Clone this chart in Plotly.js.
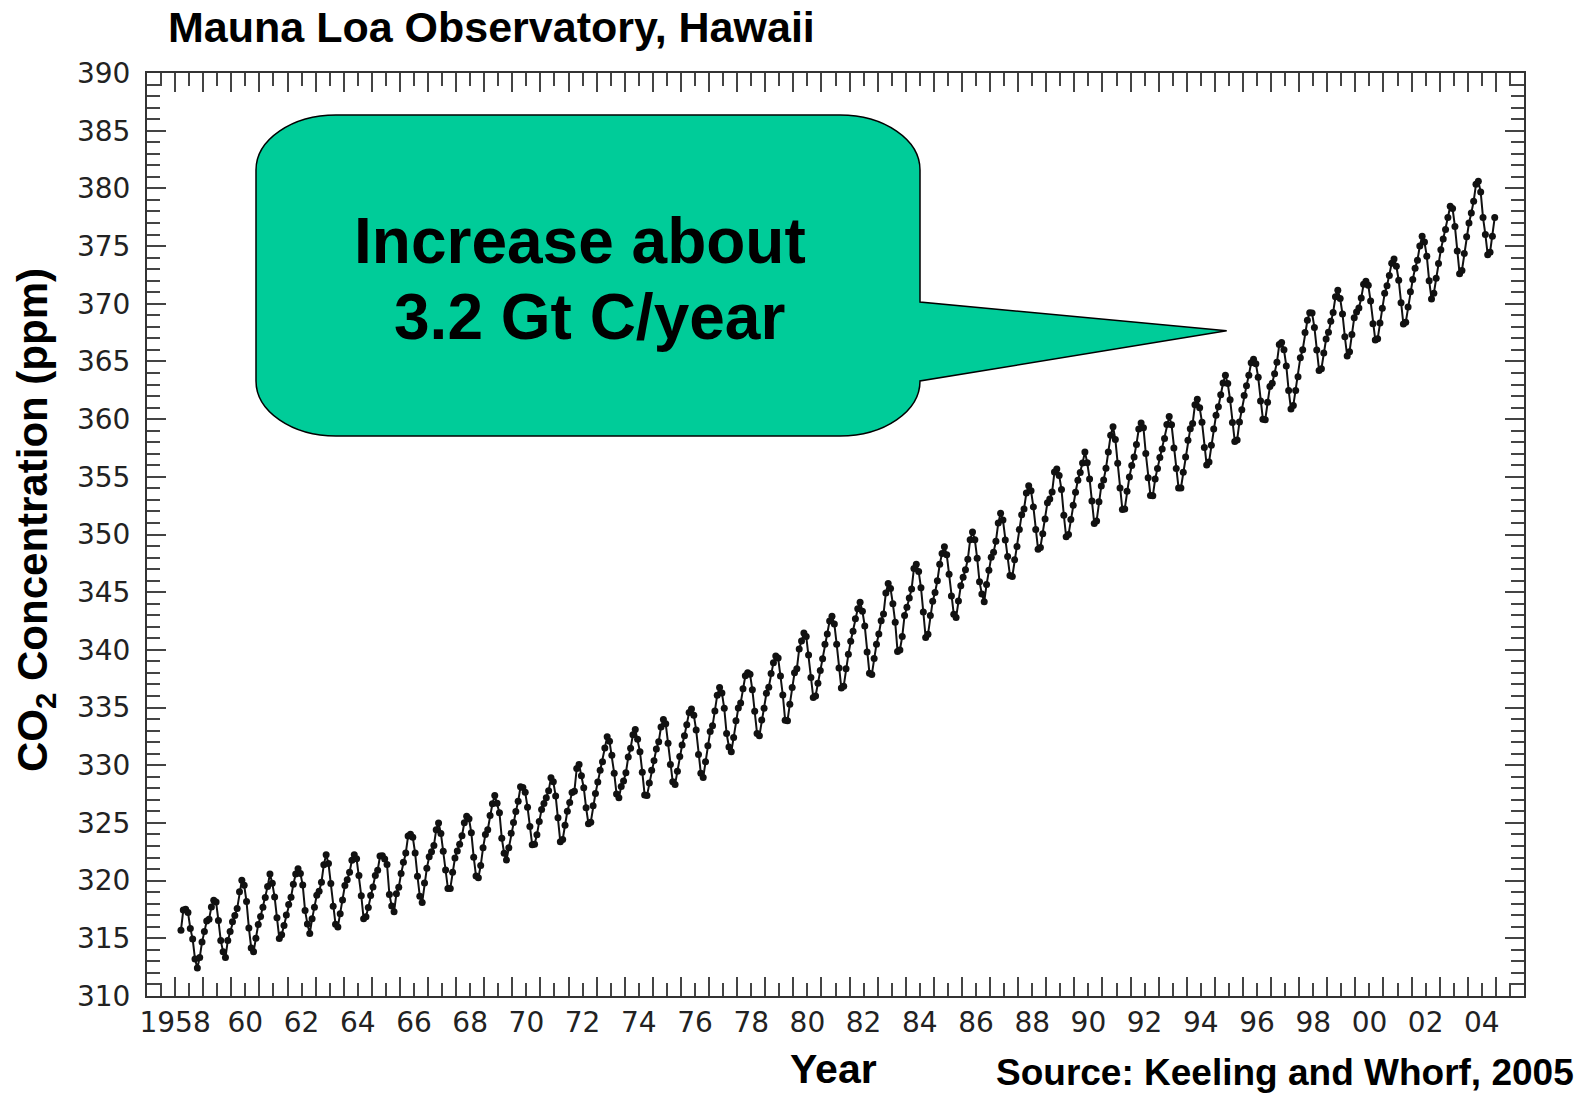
<!DOCTYPE html>
<html><head><meta charset="utf-8">
<script src="https://cdn.plot.ly/plotly-3.0.1.min.js"></script>
<style>html,body{margin:0;padding:0;background:#fff;} #chart{width:1589px;height:1097px;}</style>
</head><body><div id="chart"></div>
<script>
// Monthly CO2 (ppm), Mauna Loa, starting March 1958
const startYear = 1958, startMonth = 3;
const co2_1958_1959 = [
  315.70, 317.45, 317.51, 317.24, 315.86, 314.93, 313.20, 312.43, 313.33, 314.67,
  315.58, 316.49, 316.65, 317.72, 318.29, 318.15, 316.54, 314.80, 313.84, 313.33, 314.81, 315.58
];
const co2_1960s = [
  316.43, 316.98, 317.58, 319.03, 320.04, 319.59, 318.18, 315.90, 314.17, 313.83, 315.00, 316.19,
  316.89, 317.70, 318.54, 319.48, 320.58, 319.77, 318.57, 316.79, 314.99, 315.31, 316.10, 317.01,
  317.94, 318.55, 319.68, 320.57, 321.02, 320.62, 319.61, 317.40, 316.25, 315.42, 316.69, 317.70,
  318.74, 319.07, 319.86, 321.38, 322.25, 321.48, 319.74, 317.77, 316.21, 315.99, 317.12, 318.31,
  319.57, 320.07, 320.73, 321.77, 322.25, 321.89, 320.44, 318.69, 316.70, 316.87, 317.68, 318.71,
  319.44, 320.44, 320.89, 322.13, 322.16, 321.87, 321.39, 318.80, 317.81, 317.30, 318.87, 319.42,
  320.62, 321.59, 322.39, 323.87, 324.01, 323.75, 322.39, 320.37, 318.64, 318.10, 319.79, 321.08,
  322.07, 322.50, 323.04, 324.42, 325.00, 324.09, 322.55, 320.92, 319.31, 319.31, 320.72, 321.96,
  322.57, 323.15, 323.89, 325.02, 325.57, 325.36, 324.14, 322.03, 320.41, 320.25, 321.31, 322.84,
  324.00, 324.42, 325.64, 326.66, 327.38, 326.70, 325.89, 323.67, 322.38, 321.78, 322.85, 324.11
];
const co2_1970s = [
  325.03, 325.99, 326.87, 328.13, 328.07, 327.66, 326.35, 324.69, 323.10, 323.16, 323.98, 325.13,
  326.17, 326.68, 327.18, 327.78, 328.92, 328.57, 327.34, 325.46, 323.36, 323.57, 324.80, 326.01,
  326.77, 327.63, 327.75, 329.72, 330.07, 329.09, 328.05, 326.32, 324.93, 325.06, 326.50, 327.55,
  328.54, 329.56, 330.30, 331.50, 332.48, 332.07, 330.87, 329.31, 327.51, 327.18, 328.16, 328.64,
  329.35, 330.71, 331.48, 332.65, 333.09, 332.25, 331.18, 329.40, 327.43, 327.37, 328.46, 329.57,
  330.40, 331.40, 332.04, 333.31, 333.96, 333.59, 331.91, 330.06, 328.56, 328.34, 329.49, 330.76,
  331.75, 332.56, 333.50, 334.58, 334.87, 334.34, 333.05, 330.94, 329.30, 328.94, 330.31, 331.68,
  332.93, 333.42, 334.70, 336.07, 336.74, 336.27, 334.93, 332.75, 331.58, 331.16, 332.40, 333.85,
  334.97, 335.39, 336.64, 337.76, 338.01, 337.89, 336.54, 334.68, 332.76, 332.55, 333.92, 334.95,
  336.23, 336.76, 337.96, 338.89, 339.47, 339.29, 337.73, 336.09, 333.91, 333.86, 335.29, 336.73
];
const co2_1980s = [
  338.01, 338.36, 340.08, 340.77, 341.46, 341.17, 339.56, 337.60, 335.88, 336.01, 337.10, 338.21,
  339.24, 340.48, 341.38, 342.51, 342.91, 342.25, 340.49, 338.43, 336.69, 336.85, 338.36, 339.61,
  340.75, 341.61, 342.70, 343.56, 344.13, 343.35, 342.06, 339.82, 337.97, 337.86, 339.26, 340.49,
  341.38, 342.52, 343.10, 344.94, 345.75, 345.32, 343.99, 342.39, 339.86, 339.99, 341.16, 342.99,
  343.70, 344.50, 345.28, 347.06, 347.43, 346.80, 345.39, 343.28, 341.07, 341.35, 342.98, 344.22,
  344.97, 345.99, 347.42, 348.35, 348.93, 348.25, 346.56, 344.67, 343.09, 342.80, 344.24, 345.56,
  346.30, 346.95, 347.85, 349.55, 350.21, 349.55, 347.94, 345.90, 344.85, 344.17, 345.66, 346.90,
  348.02, 348.47, 349.42, 350.99, 351.84, 351.25, 349.52, 348.10, 346.44, 346.36, 347.81, 348.96,
  350.43, 351.72, 352.22, 353.59, 354.22, 353.79, 352.39, 350.44, 348.72, 348.88, 350.07, 351.34,
  352.76, 353.07, 353.68, 355.42, 355.67, 355.12, 353.90, 351.67, 349.80, 349.99, 351.30, 352.53
];
const co2_1990s = [
  353.66, 354.70, 355.38, 356.20, 357.16, 356.22, 354.82, 352.91, 350.96, 351.18, 352.83, 354.21,
  354.72, 355.75, 357.16, 358.60, 359.34, 358.24, 356.17, 354.03, 352.16, 352.21, 353.75, 354.99,
  355.98, 356.72, 357.81, 359.15, 359.66, 359.25, 357.02, 354.91, 353.38, 353.35, 354.81, 355.73,
  356.67, 357.41, 358.31, 359.53, 360.23, 359.51, 357.50, 355.71, 354.02, 354.03, 355.39, 356.71,
  358.16, 359.16, 359.61, 361.25, 361.72, 360.99, 359.73, 357.55, 356.02, 356.28, 357.73, 359.15,
  360.34, 361.07, 362.12, 363.13, 363.81, 363.08, 361.69, 359.71, 358.06, 358.20, 359.76, 360.81,
  362.04, 362.90, 363.81, 364.89, 365.19, 364.81, 363.62, 361.58, 360.00, 359.95, 361.47, 362.82,
  363.11, 363.94, 364.92, 366.47, 366.65, 366.01, 364.61, 362.48, 360.87, 361.18, 362.49, 363.67,
  365.33, 366.02, 367.50, 368.57, 369.23, 369.19, 367.95, 366.00, 364.22, 364.37, 365.73, 366.94,
  367.52, 368.49, 369.25, 370.60, 371.17, 370.45, 369.11, 367.14, 365.47, 365.85, 367.33, 368.78
];
const co2_2000s = [
  369.28, 369.63, 370.49, 371.68, 371.95, 371.61, 370.23, 368.26, 366.86, 366.96, 368.33, 369.62,
  370.90, 371.57, 372.45, 373.51, 373.88, 373.25, 372.04, 370.09, 368.24, 368.39, 369.71, 371.04,
  372.11, 373.07, 373.77, 375.00, 375.84, 375.35, 374.11, 372.00, 370.42, 370.91, 372.22, 373.48,
  374.68, 375.62, 376.44, 377.48, 378.45, 378.25, 376.70, 374.57, 372.60, 372.88, 374.36, 375.80,
  377.00, 377.87, 378.88, 380.35, 380.62, 379.69, 377.47, 376.01, 374.25, 374.46, 375.86, 377.48
];
const xTickVals = [1958, 1960.5, 1962.5, 1964.5, 1966.5, 1968.5, 1970.5, 1972.5, 1974.5, 1976.5,
  1978.5, 1980.5, 1982.5, 1984.5, 1986.5, 1988.5, 1990.5, 1992.5, 1994.5, 1996.5, 1998.5,
  2000.5, 2002.5, 2004.5];
const xTickText = ['1958','60','62','64','66','68','70','72','74','76','78','80','82','84','86',
  '88','90','92','94','96','98','00','02','04'];

const co2 = [].concat(co2_1958_1959, co2_1960s, co2_1970s, co2_1980s, co2_1990s, co2_2000s);
const xs = co2.map((v, i) => startYear + (startMonth - 1 + i + 0.5) / 12);

const W = 1589, H = 1097, L = 147, R = 65, T = 73, B = 101;
const pw = W - L - R, ph = H - T - B;
const px = v => (v - L) / pw;
const py = v => (H - B - v) / ph;

// callout bubble outline (pixel geometry -> paper coords)
const bx0 = 256, bx1 = 920, by0 = 115, by1 = 436, rx = 80, ry = 55, k = 0.552;
const pt = (a, b) => px(a).toFixed(5) + ',' + py(b).toFixed(5);
const bubble = 'M' + pt(bx0 + rx, by0) + ' L' + pt(bx1 - rx, by0) +
  ' C' + pt(bx1 - rx + k * rx, by0) + ' ' + pt(bx1, by0 + ry - k * ry) + ' ' + pt(bx1, by0 + ry) +
  ' L' + pt(bx1, 302) + ' L' + pt(1226.7, 330.7) + ' L' + pt(bx1, 381) +
  ' C' + pt(bx1, by1 - ry + k * ry) + ' ' + pt(bx1 - rx + k * rx, by1) + ' ' + pt(bx1 - rx, by1) +
  ' L' + pt(bx0 + rx, by1) +
  ' C' + pt(bx0 + rx - k * rx, by1) + ' ' + pt(bx0, by1 - ry + k * ry) + ' ' + pt(bx0, by1 - ry) +
  ' L' + pt(bx0, by0 + ry) +
  ' C' + pt(bx0, by0 + ry - k * ry) + ' ' + pt(bx0 + rx - k * rx, by0) + ' ' + pt(bx0 + rx, by0) + ' Z';

const tickFont = {family: 'DejaVu Sans', size: 28, color: '#222'};
const boldFont = (s) => ({family: 'Liberation Sans, Arial, sans-serif', size: s, color: '#000'});

const traces = [
  {x: xs, y: co2, type: 'scatter', mode: 'lines+markers', xaxis: 'x', yaxis: 'y',
   line: {color: '#111', width: 2}, marker: {color: '#111', size: 7}, hoverinfo: 'skip', showlegend: false},
  {x: [], y: [], type: 'scatter', mode: 'markers', xaxis: 'x2', yaxis: 'y', showlegend: false, hoverinfo: 'skip'}
];

const layout = {
  width: W, height: H,
  margin: {l: L, r: R, t: T, b: B, pad: 0},
  paper_bgcolor: '#fff', plot_bgcolor: '#fff',
  showlegend: false, hovermode: false,
  title: {text: '<b>Mauna Loa Observatory, Hawaii</b>', font: boldFont(43),
          x: 168 / W, xanchor: 'left', xref: 'container', y: 1 - 27 / H, yanchor: 'middle', yref: 'container'},
  xaxis: {range: [1957, 2006], tickmode: 'array', tickvals: xTickVals, ticktext: xTickText,
          ticks: '', showline: true, mirror: true, linecolor: '#333', linewidth: 2,
          showgrid: false, zeroline: false, tickfont: tickFont, automargin: false, fixedrange: true},
  xaxis2: {overlaying: 'x', anchor: 'y', side: 'bottom', range: [1957, 2006], tickmode: 'linear', tick0: 1957, dtick: 1,
           ticks: 'inside', ticklen: 19, tickwidth: 2, tickcolor: '#444', mirror: 'ticks',
           showline: true, linecolor: '#333', linewidth: 2, showticklabels: false,
           showgrid: false, zeroline: false, automargin: false,
           minor: {dtick: 0.5, ticks: 'inside', ticklen: 13, tickwidth: 2, tickcolor: '#444', showgrid: false}},
  yaxis: {range: [310, 390], tickmode: 'linear', tick0: 310, dtick: 5,
          ticks: 'inside', ticklen: 19, tickwidth: 2, tickcolor: '#444', mirror: 'ticks',
          showline: true, linecolor: '#333', linewidth: 2, showgrid: false, zeroline: false,
          tickfont: tickFont, automargin: false, ticklabelstandoff: 9,
          minor: {dtick: 1, ticks: 'inside', ticklen: 13, tickwidth: 2, tickcolor: '#444', showgrid: false}},
  shapes: [
    {type: 'path', xref: 'paper', yref: 'paper', path: bubble, fillcolor: '#00CC99',
     line: {color: '#000', width: 1.5}, layer: 'above'}
  ],
  annotations: [
    {text: '<b>CO<sub>2</sub> Concentration (ppm)</b>', xref: 'paper', yref: 'paper', x: px(35), y: py(520),
     textangle: -90, showarrow: false, xanchor: 'center', yanchor: 'middle', font: boldFont(42)},
    {text: '<b>Year</b>', xref: 'paper', yref: 'paper', x: px(833), y: py(1069),
     showarrow: false, xanchor: 'center', yanchor: 'middle', font: boldFont(41)},
    {text: '<b>Source: Keeling and Whorf, 2005</b>', xref: 'paper', yref: 'paper', x: px(1284.5), y: py(1072),
     showarrow: false, xanchor: 'center', yanchor: 'middle', font: boldFont(37)},
    {text: '<b>Increase about</b>', xref: 'paper', yref: 'paper', x: px(580), y: py(241),
     showarrow: false, xanchor: 'center', yanchor: 'middle', font: boldFont(64)},
    {text: '<b>3.2 Gt C/year</b>', xref: 'paper', yref: 'paper', x: px(589), y: py(317),
     showarrow: false, xanchor: 'center', yanchor: 'middle', font: boldFont(64)}
  ]
};

Plotly.newPlot('chart', traces, layout, {displayModeBar: false, staticPlot: true});
</script>
</body></html>
